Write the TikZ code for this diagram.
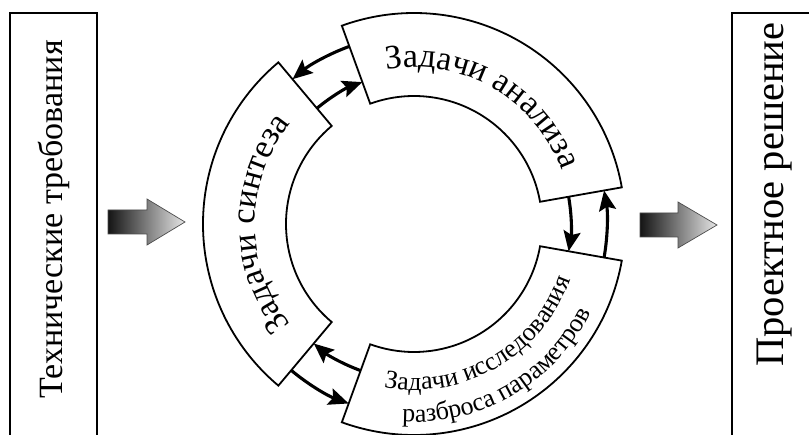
\documentclass[tikz,border=0pt]{standalone}
\usepackage{fontspec}
\setmainfont{Liberation Serif}
\newfontfamily\timesf{Liberation Serif}
\usetikzlibrary{arrows.meta,decorations.text}
\begin{document}
\begin{tikzpicture}[x=1pt,y=1pt,
  seg/.style={draw=black,line width=1.8pt,fill=white},
  boxline/.style={draw=black,line width=1.8pt},
  cyc/.style={line width=3.1pt,-{Stealth[length=20pt,width=17pt,inset=3.5pt]}},
  bigarrow/.style={draw=gray!60!black,line width=0.7pt,left color=black!92,right color=black!10},
  sidetext/.style={rotate=90,anchor=base,inner sep=0pt},
]
\clip (0,0) rectangle (809,434);
\fill[white] (0,0) rectangle (809,434);
% side boxes
\draw[boxline] (10,-10) -- (10,421) -- (97,421) -- (97,-10);
\draw[boxline] (830,421) -- (732,421) -- (732,-10);
\node[sidetext,font=\timesf\fontsize{34pt}{40pt}\selectfont] (req) at (62,214.5) {Технические требования};
\node[sidetext,font=\timesf\fontsize{40.5pt}{46pt}\selectfont] (sol) at (783,239.5) {Проектное решение};
% gradient arrows
\path[bigarrow] (108,224) -- (147,224) -- (147,235) -- (185,212) -- (147,189) -- (147,200) -- (108,200) -- cycle;
\path[bigarrow] (640,221) -- (678,221) -- (678,232) -- (717,209) -- (678,186) -- (678,197) -- (640,197) -- cycle;
% ring
\begin{scope}[shift={(414pt,210pt)}]
\coordinate (C) at (0,0);
\draw[seg] (10:211pt) arc[start angle=10,end angle=110,radius=211pt] -- (110:128pt) arc[start angle=110,end angle=10,radius=128pt] -- cycle;
\draw[seg] (130:211pt) arc[start angle=130,end angle=230,radius=211pt] -- (230:128pt) arc[start angle=230,end angle=130,radius=128pt] -- cycle;
\draw[seg] (250:211pt) arc[start angle=250,end angle=350,radius=211pt] -- (350:128pt) arc[start angle=350,end angle=250,radius=128pt] -- cycle;
% texts along arcs
\path[decorate,decoration={text along path,text align=center,
  text={|\timesf\fontsize{34pt}{40pt}\selectfont|Задачи анализа}}]
  (110:157pt) arc[start angle=110,end angle=10,radius=157pt];
\path[decorate,decoration={text along path,text align=center,
  text={|\timesf\fontsize{34pt}{40pt}\selectfont|Задачи синтеза}}]
  (230:159pt) arc[start angle=230,end angle=130,radius=159pt];
\path[decorate,decoration={text along path,text align=center,
  text={|\timesf\fontsize{26pt}{30pt}\selectfont|Задачи исследования}}]
  (250:166pt) arc[start angle=250,end angle=350,radius=166pt];
\path[decorate,decoration={text along path,text align=center,
  text={|\timesf\fontsize{26pt}{30pt}\selectfont|разброса параметров}}]
  (250:198pt) arc[start angle=250,end angle=350,radius=198pt];
% cycle arrows
\draw[cyc] (110:189pt) arc[start angle=110,end angle=130,radius=189pt];
\draw[cyc] (130:151pt) arc[start angle=130,end angle=110,radius=151pt];
\draw[cyc] (10:157pt) arc[start angle=10,end angle=-10,radius=157pt];
\draw[cyc] (-10:193pt) arc[start angle=-10,end angle=10,radius=193pt];
\draw[cyc] (250:156pt) arc[start angle=250,end angle=230,radius=156pt];
\draw[cyc] (230:191pt) arc[start angle=230,end angle=250,radius=191pt];
\end{scope}
\end{tikzpicture}
\end{document}
